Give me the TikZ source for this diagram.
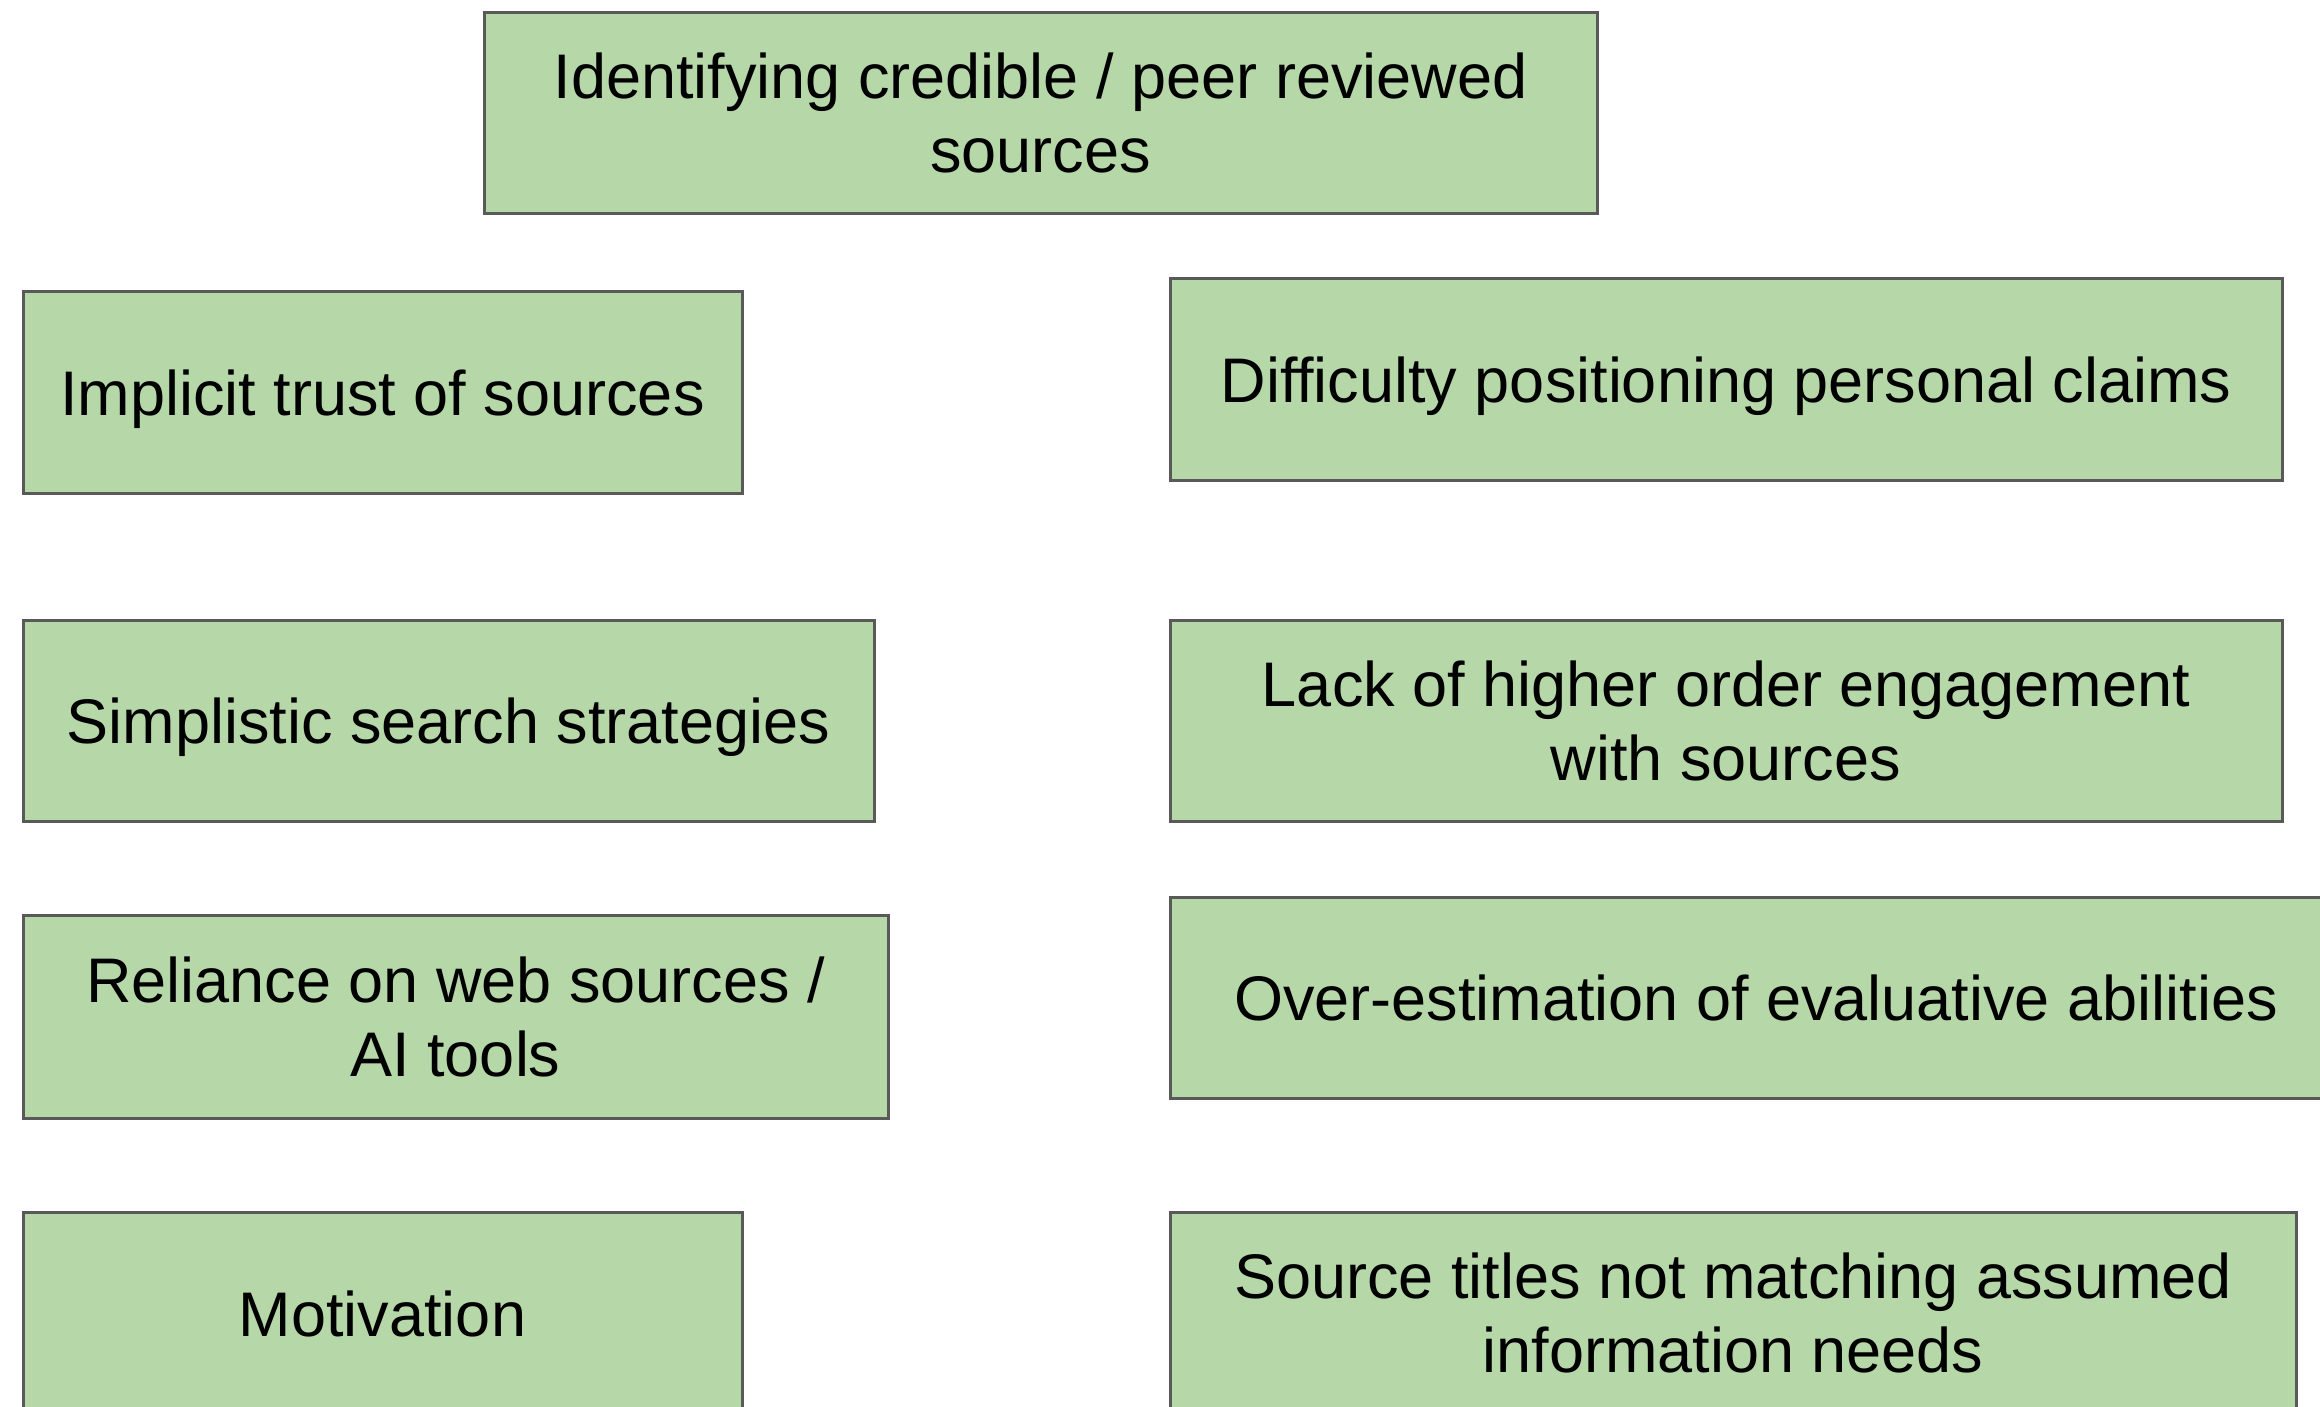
\documentclass[tikz,border=0pt]{standalone}
\usepackage{fontspec}
\setmainfont{Liberation Sans}
\definecolor{boxgreen}{HTML}{B6D7A8}
\definecolor{boxline}{HTML}{595959}
\begin{document}
\begin{tikzpicture}[x=1pt,y=-1pt,
  box/.style={draw=boxline, fill=boxgreen, line width=3pt, align=center, inner sep=0pt,
    font=\fontsize{63}{74}\selectfont},
  oneline/.style={text height=46pt, text depth=0pt}]
\useasboundingbox (0,0) rectangle (2320,1406);
\clip (0,0) rectangle (2320,1406);
\node[box, minimum width=1113pt, minimum height=201pt] (top) at (1040.5,112.5) {Identifying credible / peer reviewed\\sources};
\node[box, oneline, minimum width=719pt, minimum height=202pt] (implicit) at (382.5,392) {Implicit trust of sources};
\node[box, oneline, minimum width=1112pt, minimum height=202pt] (difficulty) at (1726,379) {Difficulty positioning personal claims};
\node[box, oneline, minimum width=851pt, minimum height=201pt] (simplistic) at (448.5,720.5) {Simplistic search strategies};
\node[box, minimum width=1112pt, minimum height=201pt] (lack) at (1726,720.5) {Lack of higher order engagement\\with sources};
\node[box, minimum width=865pt, minimum height=203pt] (reliance) at (455.5,1016.5) {Reliance on web sources /\\AI tools};
\node[box, oneline, minimum width=1172pt, minimum height=201pt] (over) at (1756,997.5) {Over-estimation of evaluative abilities};
\node[box, oneline, minimum width=719pt, minimum height=202pt] (motivation) at (382.5,1313) {Motivation};
\node[box, minimum width=1126pt, minimum height=202pt] (source) at (1733,1313) {Source titles not matching assumed\\information needs};
\end{tikzpicture}
\end{document}
